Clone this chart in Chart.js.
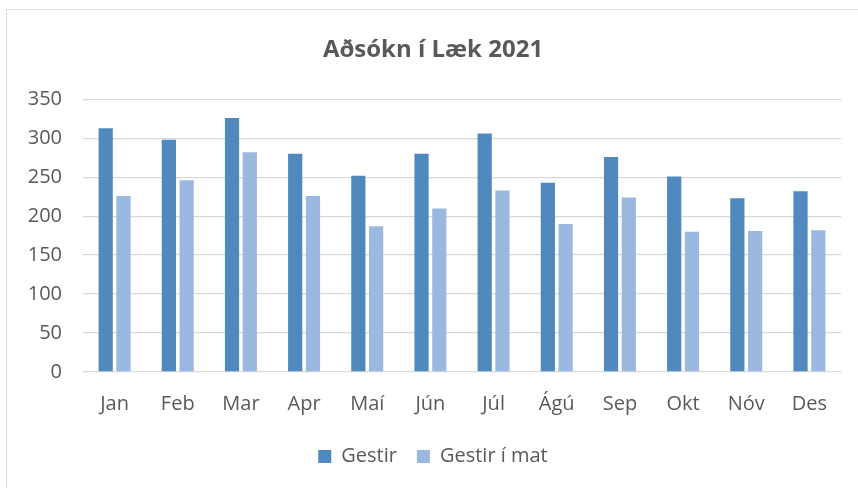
<!DOCTYPE html>
<html>
<head>
<meta charset="utf-8">
<script src="https://cdn.jsdelivr.net/npm/chart.js@4"></script>
<style>
  html, body { margin: 0; padding: 0; background: #fff; overflow: hidden; }
  #frame {
    position: absolute; left: 6px; top: 9px; width: 900px; height: 600px;
    border: 1.5px solid #d9d9d9;
  }
  #wrap { position: absolute; left: 0; top: 0; width: 858px; height: 488px; }
</style>
</head>
<body>
<div id="frame"></div>
<div id="wrap"><canvas id="chart" width="858" height="488"></canvas></div>
<script>
const months = ["Jan", "Feb", "Mar", "Apr", "Maí", "Jún", "Júl", "Ágú", "Sep", "Okt", "Nóv", "Des"];
const gestir = [313, 298, 326, 280, 252, 280, 306, 243, 276, 251, 223, 232];
const gestirMat = [226, 246, 282, 226, 187, 210, 233, 190, 224, 180, 181, 182];
const yTicks = [0, 50, 100, 150, 200, 250, 300, 350];

const textColor = "#595959";
const font = "'Open Sans', 'Noto Sans', sans-serif";

const ctx = document.getElementById("chart").getContext("2d");

new Chart(ctx, {
  type: "bar",
  data: {
    labels: months,
    datasets: [
      { label: "Gestir", data: gestir, backgroundColor: "#4F89BE", borderWidth: 0 },
      { label: "Gestir í mat", data: gestirMat, backgroundColor: "#9BB9E0", borderWidth: 0 },
    ],
  },
  options: {
    responsive: false,
    animation: false,
    layout: { padding: { left: 25, right: 17, top: 0, bottom: 11.5 } },
    datasets: { bar: { categoryPercentage: 0.563, barPercentage: 0.8 } },
    plugins: {
      title: {
        display: true,
        text: "Aðsókn í Læk 2021",
        color: textColor,
        font: { family: font, size: 24, weight: "bold" },
        padding: { top: 35.9, bottom: 34.6 },
      },
      legend: {
        position: "bottom",
        labels: {
          color: textColor,
          font: { family: font, size: 20 },
          boxWidth: 13,
          boxHeight: 13,
          padding: 20,
        },
      },
      tooltip: { enabled: false },
    },
    scales: {
      x: {
        grid: { display: false, drawTicks: false },
        border: { display: false },
        ticks: { color: textColor, font: { family: font, size: 20 }, padding: 20, maxRotation: 0 },
        afterFit: (scale) => { scale.height = 54.5; },
      },
      y: {
        min: 0,
        max: 350,
        afterBuildTicks: (scale) => { scale.ticks = yTicks.map((v) => ({ value: v })); },
        grid: { color: "#d9d9d9", lineWidth: 1.3, drawTicks: false },
        border: { display: false },
        ticks: { color: textColor, font: { family: font, size: 20 }, padding: 21 },
        afterFit: (scale) => { scale.width = 58; },
      },
    },
  },
});
</script>
</body>
</html>
